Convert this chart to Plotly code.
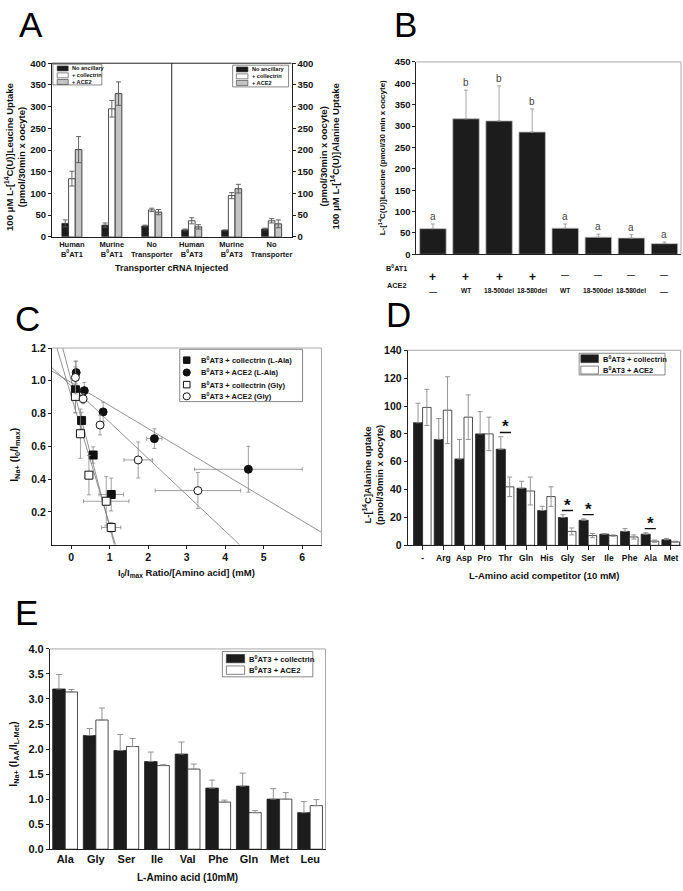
import plotly.graph_objects as go

W, H = 683, 891
FONT = "Liberation Sans, Arial, sans-serif"

# ---------------- data ----------------
# A : Leucine (B0AT1) / Alanine (B0AT3) uptake
a_left_groups = ["Human<br>B<sup>0</sup>AT1", "Murine<br>B<sup>0</sup>AT1", "No<br>Transporter"]
a_right_groups = ["Human<br>B<sup>0</sup>AT3", "Murine<br>B<sup>0</sup>AT3", "No<br>Transporter"]
a_series = ["No ancillary", "+ collectrin", "+ ACE2"]
a_leu_none = [31, 27, 25]
a_leu_none_err = [8, 5, 2]
a_leu_coll = [134, 295, 62]
a_leu_coll_err = [17, 19, 4]
a_leu_ace2 = [201, 330, 57]
a_leu_ace2_err = [30, 27, 6]
a_ala_none = [16, 15, 18]
a_ala_none_err = [2, 1, 2]
a_ala_coll = [37, 95, 37]
a_ala_coll_err = [7, 7, 5]
a_ala_ace2 = [23, 111, 30]
a_ala_ace2_err = [5, 10, 9]

# B : leucine uptake with ACE2 constructs
b_uptake = [60, 317, 312, 286, 61, 40, 38, 25]
b_err = [11, 67, 82, 54, 10, 7, 8, 4]
b_letters = ["a", "b", "b", "b", "a", "a", "a", "a"]
b_b0at1 = ["+", "+", "+", "+", "—", "—", "—", "—"]
b_ace2 = ["—", "WT", "18-500del", "18-580del", "WT", "18-500del", "18-580del", "—"]

# C : Eadie-Hofstee type plot
c_coll_ala_x = [0.11, 0.27, 0.57, 1.04]
c_coll_ala_y = [0.945, 0.758, 0.547, 0.306]
c_coll_ala_xerr = [0.02, 0.03, 0.05, 0.32]
c_coll_ala_yerr = [0.14, 0.05, 0.05, 0.10]
c_ace2_ala_x = [0.13, 0.34, 0.83, 2.16, 4.6]
c_ace2_ala_y = [1.05, 0.94, 0.81, 0.647, 0.46]
c_ace2_ala_xerr = [0.02, 0.04, 0.07, 0.2, 1.4]
c_ace2_ala_yerr = [0.07, 0.05, 0.06, 0.06, 0.14]
c_coll_gly_x = [0.11, 0.24, 0.46, 0.91, 1.04]
c_coll_gly_y = [0.905, 0.677, 0.424, 0.265, 0.105]
c_coll_gly_xerr = [0.02, 0.03, 0.08, 0.59, 0.25]
c_coll_gly_yerr = [0.10, 0.15, 0.12, 0.15, 0.03]
c_ace2_gly_x = [0.11, 0.31, 0.75, 1.74, 3.29]
c_ace2_gly_y = [1.02, 0.89, 0.73, 0.517, 0.33]
c_ace2_gly_xerr = [0.02, 0.04, 0.05, 0.37, 1.11]
c_ace2_gly_yerr = [0.10, 0.03, 0.06, 0.11, 0.11]
# fitted lines (end points)
c_fit_coll_ala = ([-0.37, 1.15], [1.2, 0.0])
c_fit_coll_gly = ([-0.22, 1.12], [1.2, 0.0])
c_fit_ace2_ala = ([-0.5, 6.5], [1.06, 0.075])
c_fit_ace2_gly = ([-0.5, 4.37], [1.08, 0.0])

# D : competition
d_comp = ["-", "Arg", "Asp", "Pro", "Thr", "Gln", "His", "Gly", "Ser", "Ile", "Phe", "Ala", "Met"]
d_coll = [88, 76, 62, 80, 69, 41, 25, 20, 18, 8, 10, 8, 4]
d_coll_err = [14, 15, 14, 16, 9, 5, 3, 2, 1, 0.5, 2, 1, 1]
d_ace2 = [99, 97, 92, 80, 42, 39, 35, 10, 7, 7, 6, 3, 2.5]
d_ace2_err = [13, 24, 16, 12, 7, 10, 7, 2.5, 1.5, 0.5, 1.5, 0.8, 0.5]
d_sig = ["Thr", "Gly", "Ser", "Ala"]

# E : substrate currents
e_aa = ["Ala", "Gly", "Ser", "Ile", "Val", "Phe", "Gln", "Met", "Leu"]
e_coll = [3.20, 2.27, 1.97, 1.75, 1.90, 1.22, 1.26, 1.00, 0.73]
e_coll_err = [0.29, 0.14, 0.32, 0.19, 0.24, 0.16, 0.26, 0.21, 0.22]
e_ace2 = [3.14, 2.58, 2.05, 1.67, 1.60, 0.94, 0.73, 1.00, 0.87]
e_ace2_err = [0.05, 0.24, 0.16, 0.02, 0.10, 0.04, 0.04, 0.13, 0.12]

# ---------------- helpers ----------------
BLACK = "#1c1c1c"
GREY = "#c4c4c4"
ERR = "#6a6a6a"
FRAME = "#a8a8a8"


def px(x):
    return x / W


def py(y):
    return 1 - y / H


def dom_x(a, b):
    return [a / W, b / W]


def dom_y(top, bottom):
    return [1 - bottom / H, 1 - top / H]


def bar(y, err, ax, color, width, offset, up_only=False, ecolor=ERR, edge="#222", cap=2.5):
    xs = list(range(len(y)))
    ey = dict(type="data", array=err, color=ecolor, thickness=0.9, width=cap)
    if up_only:
        ey.update(symmetric=False, arrayminus=[0] * len(err))
    return go.Bar(
        x=xs, y=y, xaxis="x" + ax, yaxis="y" + ax,
        width=width, offset=offset,
        marker=dict(color=color, line=dict(color=edge, width=0.8)),
        error_y=ey, showlegend=False, hoverinfo="skip",
    )


shapes, annots = [], []


def text(x, y, s, size, bold=True, angle=0, xanchor="center", yanchor="middle", color="#111"):
    annots.append(dict(
        x=px(x), y=py(y), xref="paper", yref="paper", text=s, showarrow=False,
        textangle=angle, xanchor=xanchor, yanchor=yanchor,
        font=dict(family=FONT, size=size, color=color, weight="bold" if bold else "normal"),
    ))


def rect(x0, y0, x1, y1, fill, line="#222", lw=0.7):
    shapes.append(dict(type="rect", xref="paper", yref="paper",
                       x0=px(x0), x1=px(x1), y0=py(y1), y1=py(y0),
                       fillcolor=fill, line=dict(color=line, width=lw)))


def circ(cx, cy, r, fill):
    shapes.append(dict(type="circle", xref="paper", yref="paper",
                       x0=px(cx - r), x1=px(cx + r), y0=py(cy + r), y1=py(cy - r),
                       fillcolor=fill, line=dict(color="#111", width=1)))


def frame_tr(ax, color=FRAME):
    # top and right border of a panel
    for (x0, y0, x1, y1) in [(0, 1, 1, 1), (1, 0, 1, 1)]:
        shapes.append(dict(type="line", xref=f"x{ax} domain", yref=f"y{ax} domain",
                           x0=x0, y0=y0, x1=x1, y1=y1, line=dict(color=color, width=1)))


fig = go.Figure()

# ---------------- panel A ----------------
aw = 0.167
for ax, sets in [("", [(a_leu_none, a_leu_none_err), (a_leu_coll, a_leu_coll_err), (a_leu_ace2, a_leu_ace2_err)]),
                 ("2", [(a_ala_none, a_ala_none_err), (a_ala_coll, a_ala_coll_err), (a_ala_ace2, a_ala_ace2_err)])]:
    for (vals, err), col, off in zip(sets, [BLACK, "white", GREY], [-0.25, -0.083, 0.084]):
        fig.add_trace(bar(vals, err, ax, col, aw, off, ecolor="#555", cap=2.5))

# ---------------- panel B ----------------
fig.add_trace(bar(b_uptake, b_err, "3", BLACK, 0.8, -0.4, up_only=True,
                  ecolor="#9a9a9a", edge="#bdbdbd", cap=2))
for i, (v, e, l) in enumerate(zip(b_uptake, b_err, b_letters)):
    annots.append(dict(x=i, y=v + e, xref="x3", yref="y3", text=l, showarrow=False,
                       yanchor="bottom", yshift=0,
                       font=dict(family=FONT, size=10, color="#444")))
for i, (p, a) in enumerate(zip(b_b0at1, b_ace2)):
    annots.append(dict(x=i, y=py(266), xref="x3", yref="paper", text=p, showarrow=False,
                       font=dict(family=FONT, size=12 if p == "+" else 8, color="#111", weight="bold")))
    annots.append(dict(x=i, y=py(283), xref="x3", yref="paper", text=a, showarrow=False,
                       font=dict(family=FONT, size=6.6 if a != "—" else 8, color="#111", weight="bold")))
text(397, 266, "B<sup>0</sup>AT1", 7.3)
text(397, 283, "ACE2", 7.3)

# ---------------- panel C ----------------
for xf, yf in [c_fit_coll_ala, c_fit_coll_gly, c_fit_ace2_ala, c_fit_ace2_gly]:
    fig.add_trace(go.Scatter(x=xf, y=yf, xaxis="x4", yaxis="y4", mode="lines",
                             line=dict(color="#777", width=0.8), showlegend=False, hoverinfo="skip"))
for xs, ys, xe, ye, sym in [
    (c_coll_ala_x, c_coll_ala_y, c_coll_ala_xerr, c_coll_ala_yerr, "square"),
    (c_ace2_ala_x, c_ace2_ala_y, c_ace2_ala_xerr, c_ace2_ala_yerr, "circle"),
    (c_coll_gly_x, c_coll_gly_y, c_coll_gly_xerr, c_coll_gly_yerr, "square-open"),
    (c_ace2_gly_x, c_ace2_gly_y, c_ace2_gly_xerr, c_ace2_gly_yerr, "circle-open"),
]:
    filled = "open" not in sym
    fig.add_trace(go.Scatter(
        x=xs, y=ys, xaxis="x4", yaxis="y4", mode="markers",
        marker=dict(symbol=sym.replace("-open", ""), size=8,
                    color="#111" if filled else "white", line=dict(color="#111", width=1)),
        error_x=dict(type="data", array=xe, color="#888", thickness=0.8, width=2),
        error_y=dict(type="data", array=ye, color="#888", thickness=0.8, width=2),
        showlegend=False, hoverinfo="skip"))

# ---------------- panel D ----------------
fig.add_trace(bar(d_coll, d_coll_err, "5", BLACK, 0.44, -0.44, up_only=True, ecolor="#888", cap=2.5))
fig.add_trace(bar(d_ace2, d_ace2_err, "5", "white", 0.41, 0.0, ecolor="#888", cap=2.5))
for name in d_sig:
    i = d_comp.index(name)
    top = max(d_coll[i] + d_coll_err[i], d_ace2[i] + d_ace2_err[i])
    shapes.append(dict(type="line", xref="x5", yref="y5", x0=i - 0.27, x1=i + 0.27,
                       y0=top + 3, y1=top + 3, line=dict(color="#111", width=1.3)))
    annots.append(dict(x=i, y=top + 3, xref="x5", yref="y5", text="*", showarrow=False,
                       yanchor="bottom", yshift=-6,
                       font=dict(family=FONT, size=17, color="#111", weight="bold")))

# ---------------- panel E ----------------
fig.add_trace(bar(e_coll, e_coll_err, "6", BLACK, 0.41, -0.41, up_only=True, ecolor="#888", cap=3))
fig.add_trace(bar(e_ace2, e_ace2_err, "6", "white", 0.40, 0.0, up_only=True, ecolor="#888", cap=3))

# ---------------- axes ----------------
tf = lambda s: dict(family=FONT, size=s, color="#111", weight="bold")
base = dict(showgrid=False, zeroline=False, showline=True, linecolor="#222", linewidth=1,
            fixedrange=True)
yb = dict(base, ticks="outside", ticklen=3, tickwidth=1, tickcolor="#222")

fig.update_layout(
    xaxis=dict(base, domain=dom_x(52, 172), range=[-0.5, 2.5], tickvals=[0, 1, 2],
               ticktext=a_left_groups, tickangle=0, tickfont=tf(7.5), ticks="", anchor="y"),
    yaxis=dict(yb, domain=dom_y(58, 234), range=[0, 400], dtick=50, tickfont=tf(9.5), anchor="x"),
    xaxis2=dict(base, domain=dom_x(172, 292), range=[-0.5, 2.5], tickvals=[0, 1, 2],
                ticktext=a_right_groups, tickangle=0, tickfont=tf(7.5), ticks="", anchor="y2"),
    yaxis2=dict(yb, domain=dom_y(58, 234), range=[0, 400], dtick=50, tickfont=tf(9.5),
                side="right", anchor="x2"),
    xaxis3=dict(base, domain=dom_x(417, 682), range=[-0.5, 7.5], showticklabels=False,
                ticks="", anchor="y3"),
    yaxis3=dict(yb, domain=dom_y(56.7, 251.7), range=[0, 450], dtick=50, tickfont=tf(9.5),
                anchor="x3"),
    xaxis4=dict(yb, domain=dom_x(52, 322), range=[-0.5, 6.5], dtick=1, tickfont=tf(10.5),
                anchor="y4"),
    yaxis4=dict(yb, domain=dom_y(346.7, 546), range=[0, 1.2], tickvals=[0.2, 0.4, 0.6, 0.8, 1.0, 1.2],
                tickformat=".1f", tickfont=tf(10.5), anchor="x4"),
    xaxis5=dict(yb, domain=dom_x(408.3, 681.7), range=[-0.72, 12.47], tickvals=list(range(len(d_comp))),
                ticktext=d_comp, tickangle=0, tickfont=tf(8.5), ticklen=4, anchor="y5"),
    yaxis5=dict(yb, domain=dom_y(349, 546.7), range=[0, 140], dtick=20, tickfont=tf(10.5),
                anchor="x5"),
    xaxis6=dict(base, domain=dom_x(50, 326), range=[-0.5, 8.5], tickvals=list(range(len(e_aa))),
                ticktext=e_aa, tickangle=0, tickfont=tf(11), ticks="", anchor="y6"),
    yaxis6=dict(yb, domain=dom_y(651.7, 854.7), range=[0, 4], dtick=0.5, tickformat=".1f",
                tickfont=tf(11), anchor="x6"),
)

# frames
shapes.append(dict(type="line", xref="paper", yref="paper", x0=px(52), x1=px(292),
                   y0=py(58), y1=py(58), line=dict(color="#222", width=1)))
shapes.append(dict(type="line", xref="paper", yref="paper", x0=px(172), x1=px(172),
                   y0=py(58), y1=py(234), line=dict(color="#222", width=1)))
for ax in ["3", "4", "5", "6"]:
    frame_tr(ax)

# ---------------- legends ----------------
def legend(box, items, sym_x, text_x, rows, fsize, sym_h=5):
    rect(*box, "white", line="#555", lw=0.7)
    for (kind, fill, label), yc in zip(items, rows):
        if kind == "bar":
            rect(sym_x[0], yc - sym_h / 2, sym_x[1], yc + sym_h / 2, fill, line="#333", lw=0.6)
        elif kind == "square":
            c = (sym_x[0] + sym_x[1]) / 2
            rect(c - 3.3, yc - 3.3, c + 3.3, yc + 3.3, fill, line="#111", lw=1)
        else:
            c = (sym_x[0] + sym_x[1]) / 2
            circ(c, yc, 3.6, fill)
        text(text_x, yc, label, fsize, xanchor="left")


a_items = [("bar", BLACK, a_series[0]), ("bar", "white", a_series[1]), ("bar", GREY, a_series[2])]
legend((53, 59, 102, 80), a_items, (57.3, 68.3), 70, [63.3, 70.3, 77.0], 5.6)
legend((233, 60, 289, 82), a_items, (236.7, 248.3), 250.5, [64.3, 71.3, 78.0], 5.6)
legend((180, 348, 303, 401), [
    ("square", "#111", "B<sup>0</sup>AT3 + collectrin (L-Ala)"),
    ("circle", "#111", "B<sup>0</sup>AT3 + ACE2 (L-Ala)"),
    ("square", "white", "B<sup>0</sup>AT3 + collectrin (Gly)"),
    ("circle", "white", "B<sup>0</sup>AT3 + ACE2 (Gly)"),
], (183, 191), 199, [359, 371.5, 383.8, 395.6], 7.6)
legend((580, 352, 666, 374), [
    ("bar", BLACK, "B<sup>0</sup>AT3 + collectrin"),
    ("bar", "white", "B<sup>0</sup>AT3 + ACE2"),
], (581.7, 599.3), 601.5, [357.5, 369], 7.5, sym_h=8)
legend((222.7, 654.3, 313.3, 680), [
    ("bar", BLACK, "B<sup>0</sup>AT3 + collectrin"),
    ("bar", "white", "B<sup>0</sup>AT3 + ACE2"),
], (226.7, 245), 247.3, [661.5, 673.2], 7.7, sym_h=8.5)

# ---------------- titles / labels ----------------
text(15, 153, "100 μM L-[<sup>14</sup>C(U)]Leucine Uptake<br>(pmol/30min x oocyte)", 9.5, angle=-90)
text(330, 153, "(pmol/30min x oocyte)<br>100 μM L-[<sup>14</sup>C(U)]Alanine Uptake", 9.5, angle=-90)
text(172, 266, "Transporter cRNA Injected", 9)
text(382, 154, "L-[<sup>14</sup>C(U)]Leucine (pmol/30 min x oocyte)", 8, angle=-90)
text(15, 455, "I<sub>Na+</sub> (I<sub>0</sub>/I<sub>max</sub>)", 10.5, angle=-90)
text(187, 575, "I<sub>0</sub>/I<sub>max</sub> Ratio/[Amino acid] (mM)", 9.5)
text(373, 475, "L-[<sup>14</sup>C]Alanine uptake<br>(pmol/30min x oocyte)", 9.5, angle=-90)
text(545, 577, "L-Amino acid competitor (10 mM)", 9.5)
text(14, 758, "I<sub>Na+</sub> (I<sub>AA</sub>/I<sub>L-Met</sub>)", 10.5, angle=-90)
text(188, 883, "L-Amino acid (10mM)", 10)

for letter, x, y in [("A", 31, 19), ("B", 406, 18.5), ("C", 27.5, 316.5), ("D", 399, 312.5), ("E", 27, 615)]:
    text(x, y, letter, 35, bold=False, color="#000")

fig.update_layout(
    width=W, height=H, margin=dict(l=0, r=0, t=0, b=0),
    paper_bgcolor="white", plot_bgcolor="white",
    barmode="overlay", showlegend=False,
    font=dict(family=FONT, color="#111"),
    shapes=shapes, annotations=annots,
)

# page has default 8px body margin; remove it so the figure fills the window exactly
fig.write_html("out.html", config={"displayModeBar": False},
               post_script="document.body.style.margin='0px';")
